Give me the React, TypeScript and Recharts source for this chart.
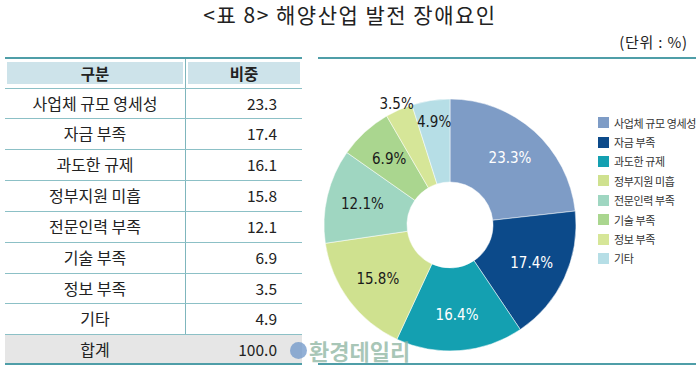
import { PieChart, Pie, Cell, Legend } from "recharts";

// 표 데이터
const categories = [
  "사업체 규모 영세성",
  "자금 부족",
  "과도한 규제",
  "정부지원 미흡",
  "전문인력 부족",
  "기술 부족",
  "정보 부족",
  "기타",
];
const tableValues = ["23.3", "17.4", "16.1", "15.8", "12.1", "6.9", "3.5", "4.9"];
const totalLabel = "100.0";
// 원 그래프에 표기된 값 (과도한 규제는 그래프상 16.4)
const pieValues = [23.3, 17.4, 16.4, 15.8, 12.1, 6.9, 3.5, 4.9];
const colors = [
  "#7e9cc6",
  "#0c4a8a",
  "#14a0b1",
  "#cfe18f",
  "#9fd6c1",
  "#aad68f",
  "#d6e698",
  "#b6dee6",
];
const darkLabels = [false, false, false, true, true, true, true, true];

const KR = "'Noto Sans CJK KR', 'Noto Sans', sans-serif";
const LINE = "#4f9ea8";
const RAD = Math.PI / 180;

const data = categories.map((name, i) => ({ name, value: pieValues[i] }));

function renderLabel(props: any) {
  const { cx, cy, midAngle, percent, index } = props;
  const share = percent * 100;
  // 작은 조각은 바깥쪽으로
  const r = share < 4 ? 132 : share < 5.5 ? 104 : 90;
  const x = cx + r * Math.cos(-midAngle * RAD);
  const y = cy + r * Math.sin(-midAngle * RAD);
  return (
    <text
      x={x}
      y={y}
      textAnchor="middle"
      dominantBaseline="central"
      fill={darkLabels[index] ? "#1a1a1a" : "#ffffff"}
      style={{ fontFamily: "'DejaVu Sans Condensed', 'DejaVu Sans', sans-serif", fontSize: 15, fontStretch: "condensed" }}
    >
      {`${pieValues[index].toFixed(1)}%`}
    </text>
  );
}

function LegendList() {
  return (
    <div style={{ fontFamily: KR, fontSize: 11, letterSpacing: -0.4, color: "#333", whiteSpace: "nowrap" }}>
      {categories.map((c, i) => (
        <div key={c} style={{ display: "flex", alignItems: "center", height: 19.4 }}>
          <span style={{ width: 11, height: 11, background: colors[i], marginRight: 5, display: "inline-block", flexShrink: 0 }} />
          <span>{c}</span>
        </div>
      ))}
    </div>
  );
}

const rowTops = [88, 118, 149, 180, 211, 242, 273, 303, 334];

export default function App() {
  return (
    <div style={{ position: "absolute", left: 0, top: 0, width: 700, height: 372, background: "#fff", overflow: "hidden" }}>
      <div style={{ position: "absolute", left: 0, top: 0, width: 700, textAlign: "center", fontFamily: KR, fontSize: 21, letterSpacing: 1.5, color: "#222", lineHeight: "28px" }}>
        &lt;표 8&gt; 해양산업 발전 장애요인
      </div>
      <div style={{ position: "absolute", right: 12, top: 31, fontFamily: KR, fontSize: 15, letterSpacing: 0.8, color: "#222" }}>
        (단위 : %)
      </div>

      {/* 표 */}
      <div style={{ position: "absolute", left: 5, top: 57, width: 297, height: 2, background: LINE }} />
      <div style={{ position: "absolute", left: 7, top: 62, width: 176, height: 22, background: "#cde3ea" }} />
      <div style={{ position: "absolute", left: 188, top: 62, width: 112, height: 22, background: "#cde3ea" }} />
      <div style={{ position: "absolute", left: 7, top: 59, width: 176, height: 29, lineHeight: "29px", textAlign: "center", fontFamily: KR, fontWeight: 700, fontSize: 15.5, color: "#222" }}>구분</div>
      <div style={{ position: "absolute", left: 188, top: 59, width: 112, height: 29, lineHeight: "29px", textAlign: "center", fontFamily: KR, fontWeight: 700, fontSize: 15.5, color: "#222" }}>비중</div>
      <div style={{ position: "absolute", left: 185, top: 59, width: 1, height: 305, background: "#7fb6bd" }} />
      <div style={{ position: "absolute", left: 5, top: 335, width: 297, height: 28, background: "#e6e6e6" }} />
      {rowTops.map((t) => (
        <div key={t} style={{ position: "absolute", left: 5, top: t, width: 297, height: 1, background: "#8cc0c6" }} />
      ))}
      {[...categories, "합계"].map((c, i) => (
        <div key={c}>
          <div style={{ position: "absolute", left: 5, top: rowTops[i], width: 180, height: 31, lineHeight: "31px", textAlign: "center", fontFamily: KR, fontSize: 16, color: "#222" }}>{c}</div>
          <div style={{ position: "absolute", left: 186, top: rowTops[i], width: 91, height: 31, lineHeight: "31px", textAlign: "right", fontFamily: KR, fontSize: 15.5, color: "#222" }}>
            {i < tableValues.length ? tableValues[i] : totalLabel}
          </div>
        </div>
      ))}
      <div style={{ position: "absolute", left: 5, top: 363, width: 297, height: 2, background: LINE }} />

      {/* 그래프 박스 */}
      <div style={{ position: "absolute", left: 318, top: 57, width: 378, height: 2, background: LINE }} />
      <div style={{ position: "absolute", left: 318, top: 363, width: 378, height: 2, background: LINE }} />

      <div style={{ position: "absolute", left: 310, top: 60 }}>
        <PieChart width={390} height={300}>
          <Pie
            data={data}
            dataKey="value"
            nameKey="name"
            cx={135}
            cy={160}
            innerRadius={43}
            outerRadius={126}
            startAngle={90}
            endAngle={-270}
            stroke="#ffffff"
            strokeWidth={0.5}
            labelLine={false}
            label={renderLabel}
            isAnimationActive={false}
          >
            {data.map((d, i) => (
              <Cell key={d.name} fill={colors[i]} />
            ))}
          </Pie>
          <Legend content={() => <LegendList />} wrapperStyle={{ position: "absolute", left: 288, top: 53, width: 102 }} />
        </PieChart>
      </div>

      {/* 워터마크 */}
      <div style={{ position: "absolute", left: 290, top: 334, display: "flex", alignItems: "center", fontFamily: KR, fontSize: 22, fontWeight: 700, color: "rgba(140,180,160,0.75)" }}>
        <span style={{ width: 17, height: 17, borderRadius: "50%", background: "rgba(110,150,200,0.75)", display: "inline-block", marginRight: 2 }} />
        환경데일리
      </div>
    </div>
  );
}
